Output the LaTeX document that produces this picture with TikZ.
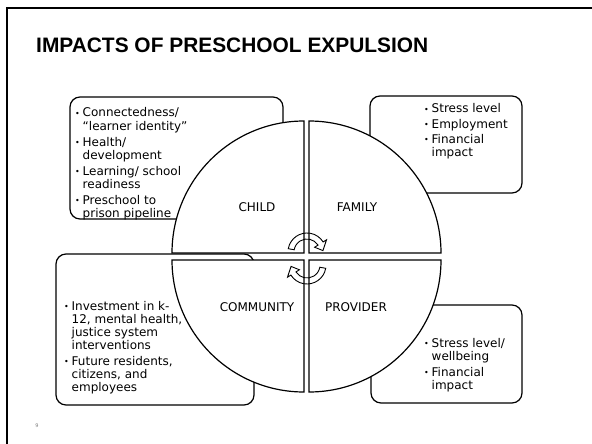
\documentclass[tikz,border=0pt]{standalone}
\usepackage{fontspec}
\setmainfont{DejaVu Sans}
\newfontfamily\titlefont{Liberation Sans}
\newcommand\bul{\makebox[7.5pt][l]{\raisebox{0.6pt}{\fontsize{8}{8}\selectfont •}}}
\begin{document}
\begin{tikzpicture}[x=1pt,y=-1pt,
  box/.style={draw,line width=1.2pt,rounded corners=10pt},
  quad/.style={draw,fill=white,line width=1.2pt},
  cycarrow/.style={draw,line width=0.9pt,line join=miter},
  lbl/.style={inner sep=0pt,font=\fontsize{12}{13}\selectfont},
  txt/.style={inner sep=0pt,anchor=base west,font=\fontsize{12}{13}\selectfont}]
\useasboundingbox (0,0) rectangle (592,444);
\fill[white] (0,0) rectangle (592,444);
% slide frame
\coordinate (fr1) at (600,8);
\coordinate (fr2) at (7,8);
\coordinate (fr3) at (7,452);
\draw[line width=2pt] (fr1) -- (fr2) -- (fr3);
% title
\node[inner sep=0pt,anchor=base west,font=\titlefont\bfseries\fontsize{20.9}{24}\selectfont] (title) at (36,53) {IMPACTS OF PRESCHOOL EXPULSION};
% text boxes
\draw[box] (70,97) rectangle (283,219);
\draw[box] (370,96) rectangle (522,193);
\draw[box] (56,254) rectangle (254,405);
\draw[box] (371,305) rectangle (522,403);
% box texts
\node[txt] (tchild) at (75,117) {\begin{tabular}[t]{@{}l@{}l@{}}
\bul & Connectedness/\\ & “learner identity”\\[3pt]
\bul & Health/\\ & development\\[3pt]
\bul & Learning/ school\\ & readiness\\[3pt]
\bul & Preschool to\\ & prison pipeline
\end{tabular}};
\node[txt] (tfamily) at (424,113) {\begin{tabular}[t]{@{}l@{}l@{}}
\bul & Stress level\\[2pt]
\bul & Employment\\[2pt]
\bul & Financial\\ & impact
\end{tabular}};
\node[txt] (tcomm) at (64,310) {\begin{tabular}[t]{@{}l@{}l@{}}
\bul & Investment in k-\\ & 12, mental health,\\ & justice system\\ & interventions\\[3pt]
\bul & Future residents,\\ & citizens, and\\ & employees
\end{tabular}};
\node[txt] (tprov) at (424,347) {\begin{tabular}[t]{@{}l@{}l@{}}
\bul & Stress level/\\ & wellbeing\\[3pt]
\bul & Financial\\ & impact
\end{tabular}};
% quadrants
\draw[quad] (304,253) -- (172,253) arc[start angle=180,end angle=270,radius=132] -- cycle;
\draw[quad] (309,253) -- (309,121) arc[start angle=270,end angle=360,radius=132] -- cycle;
\draw[quad] (309,260) -- (441,260) arc[start angle=0,end angle=90,radius=132] -- cycle;
\draw[quad] (304,260) -- (304,392) arc[start angle=90,end angle=180,radius=132] -- cycle;
% labels
\node[lbl] (child) at (257,207) {CHILD};
\node[lbl] (family) at (357,207) {FAMILY};
\node[lbl] (community) at (257,307) {COMMUNITY};
\node[lbl] (provider) at (356,307) {PROVIDER};
% circular arrows
\begin{scope}[shift={(307,252)}]
\draw[cycarrow] (190:19) arc[start angle=190,end angle=328,radius=19] -- (328:23) -- (355:16) -- (328:9) -- (328:13) arc[start angle=328,end angle=190,radius=13] -- cycle;
\end{scope}
\begin{scope}[shift={(307,265)}]
\draw[cycarrow] (10:19) arc[start angle=10,end angle=148,radius=19] -- (148:23) -- (175:16) -- (148:9) -- (148:13) arc[start angle=148,end angle=10,radius=13] -- cycle;
\end{scope}
% page number
\node[inner sep=0pt,text=gray,font=\fontsize{5}{6}\selectfont] (pnum) at (37,426) {9};
\end{tikzpicture}
\end{document}
